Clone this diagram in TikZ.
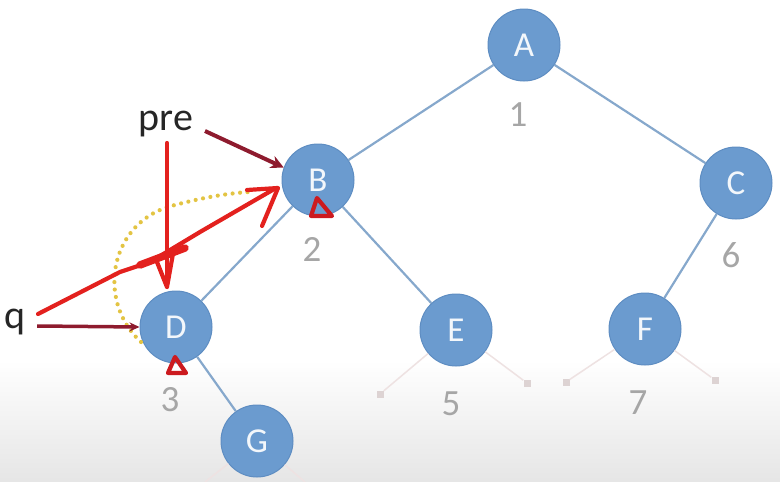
\documentclass[tikz,border=0pt]{standalone}
\usepackage{fontspec}
\setmainfont{Carlito}
\usetikzlibrary{arrows.meta}
\definecolor{nodeblue}{HTML}{6B9BCF}
\definecolor{nodeedge}{HTML}{5E8DC2}
\definecolor{edgeblue}{HTML}{86A8CC}
\definecolor{numgray}{HTML}{A6A6A6}
\definecolor{darkred}{HTML}{8E1B2E}
\definecolor{pen}{HTML}{E3211E}
\definecolor{pendark}{HTML}{CC1A1F}
\definecolor{dotyellow}{HTML}{E3C443}
\definecolor{faint}{HTML}{EEE2E2}
\tikzset{
  tnode/.style={circle, fill=nodeblue, draw=nodeedge, line width=1pt, minimum size=72pt, inner sep=0pt, text=white!92!nodeblue, font=\fontsize{35}{35}\selectfont},
  tedge/.style={draw=edgeblue, line width=2.2pt},
  num/.style={text=numgray, font=\fontsize{37}{37}\selectfont},
  stub/.style={draw=faint, line width=1.5pt},
  stubend/.style={fill=faint!85!gray, minimum size=7pt, inner sep=0pt},
  lbl/.style={text=black!85, font=\fontsize{40}{40}\selectfont},
  darrow/.style={draw=darkred, line width=4pt, -{Stealth[length=13pt,width=13pt]}},
  penline/.style={draw=pen, line width=4.2pt, line cap=round, line join=round},
  ydot/.style={draw=dotyellow, line width=4.2pt, dash pattern=on 0pt off 7.5pt, line cap=round}
}
\begin{document}
\begin{tikzpicture}[x=1pt,y=-1pt]
\useasboundingbox (0,0) rectangle (780,482);
\shade[top color=white, bottom color=black!10] (0,360) rectangle (780,482);
% faint stub ends
\node[stubend] (e1) at (380,394) {};
\node[stubend] (e2) at (527,383) {};
\node[stubend] (f1) at (566,382) {};
\node[stubend] (f2) at (715,380) {};
\coordinate (g1) at (205,482);
\coordinate (g2) at (305,482);
% nodes
\node[tnode] (A) at (524,45) {A};
\node[tnode] (B) at (318,180) {B};
\node[tnode] (C) at (736,183) {C};
\node[tnode] (D) at (176,327) {D};
\node[tnode] (E) at (456,330) {E};
\node[tnode] (F) at (645,329) {F};
\node[tnode] (G) at (257,441) {G};
% edges
\draw[tedge] (A) -- (B);
\draw[tedge] (A) -- (C);
\draw[tedge] (B) -- (D);
\draw[tedge] (B) -- (E);
\draw[tedge] (C) -- (F);
\draw[tedge] (D) -- (G);
\draw[stub] (E) -- (e1);
\draw[stub] (E) -- (e2);
\draw[stub] (F) -- (f1);
\draw[stub] (F) -- (f2);
\draw[stub] (G) -- (g1);
\draw[stub] (G) -- (g2);
% numbers
\node[num] (n1) at (518,115) {1};
\node[num] (n2) at (312,249) {2};
\node[num] (n6) at (731,255) {6};
\node[num] (n3) at (170,400) {3};
\node[num] (n5) at (451,404) {5};
\node[num] (n7) at (638,403) {7};
% labels
\node[lbl] (pre) at (166,124) {pre};
\node[lbl] (q) at (15,322) {q};
% dotted arc
\draw[ydot] (141,342) .. controls (95,300) and (110,220) .. (175,205) .. controls (205,197) and (230,193) .. (250,192);
% dark red arrows
\draw[darrow] (205,131) -- (B.160);
\draw[draw=darkred, line width=3.5pt, -{Stealth[length=10pt,width=9pt,fill=orange!70!red]}] (q.east) ++(8,4) -- (D.180);
% pen strokes
\draw[penline] (38,314) -- (120,272) -- (150,262) -- (200,232) -- (276,188);
\draw[pen, line width=7.5pt, line cap=round] (140,265) -- (185,248);
\draw[penline] (247,190) -- (278,188) -- (262,226);
\draw[penline] (167,143) -- (167,287);
\draw[penline] (157,262) -- (167,287) -- (174,248);
\draw[penline, draw=pendark] (311,216) -- (332,216) -- (317,198) -- cycle;
\draw[penline, draw=pendark] (168,373) -- (186,373) -- (175,357) -- cycle;
\end{tikzpicture}
\end{document}
